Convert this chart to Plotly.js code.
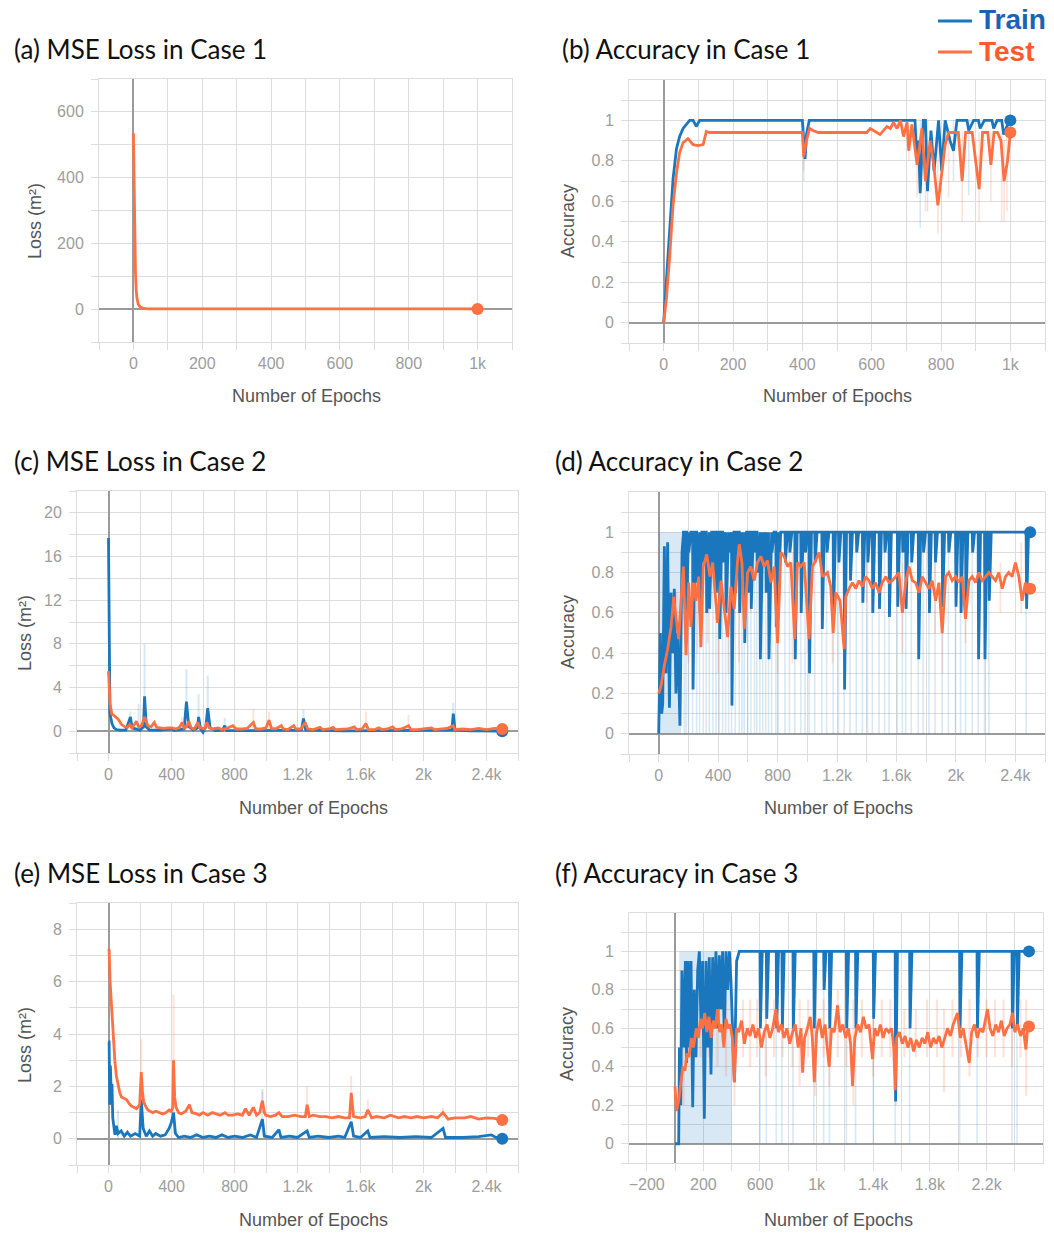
<!DOCTYPE html>
<html><head><meta charset="utf-8">
<script src="https://cdn.plot.ly/plotly-3.0.1.min.js"></script>
<style>html,body{margin:0;padding:0;background:#fff;}#chart{width:1054px;height:1234px;}</style>
</head><body><div id="chart"></div>
<script>
// ---------------- DATA (epoch, value) ----------------
// (a) MSE loss, case 1
const testLossA = [[0,535],[2,380],[4,200],[6,110],[8,60],[10,35],[14,15],[20,6],[30,2],[40,1],[100,0.6],[1000,0.5]];

// (b) accuracy, case 1
const trainAccB = [[0,0],[8,0.21],[17,0.41],[27,0.71],[37,0.86],[46,0.92],[56,0.96],[66,0.98],[75,1.0],[85,1.0],[94,0.97],[104,1.0],[400,1.0],[404,0.9],[408,0.81],[412,0.93],[420,1.0],[725,1.0],[730,0.8],[735,0.9],[740,0.64],[749,1.0],[755,1.0],[761,0.65],[771,0.95],[780,0.75],[793,1.0],[802,0.75],[812,1.0],[826,0.9],[836,0.85],[846,1.0],[875,1.0],[880,0.95],[894,1.0],[908,1.0],[913,0.96],[925,1.0],[947,1.0],[952,0.96],[962,1.0],[975,1.0],[981,0.93],[990,0.97],[1000,1.0]];
const testAccB = [[0,0],[8,0.12],[17,0.32],[27,0.58],[37,0.74],[46,0.84],[56,0.89],[70,0.91],[85,0.88],[99,0.875],[114,0.88],[123,0.945],[133,0.94],[400,0.94],[404,0.82],[412,0.9],[421,0.96],[431,0.95],[446,0.94],[460,0.94],[586,0.94],[596,0.96],[605,0.95],[624,0.93],[644,0.97],[654,0.96],[663,0.99],[673,0.96],[683,1.0],[692,0.92],[702,0.99],[707,0.85],[716,0.98],[731,0.78],[745,0.96],[755,0.7],[769,0.9],[779,0.78],[791,0.58],[802,0.75],[812,0.88],[822,0.94],[837,0.94],[850,0.94],[861,0.7],[871,0.94],[890,0.94],[910,0.66],[920,0.94],[935,0.94],[944,0.78],[953,0.94],[963,0.94],[973,0.9],[982,0.7],[992,0.8],[1000,0.94]];
// raw (unsmoothed) excursions: [epoch, from, to]
const rawTrainB = [[20,0.5,0.3],[404,1.0,0.7],[740,1.0,0.47],[761,1.0,0.55],[836,1.0,0.7],[880,1.0,0.63]];
const rawTestB = [[404,0.94,0.75],[707,0.98,0.8],[731,0.96,0.62],[755,0.94,0.55],[791,0.9,0.44],[822,0.94,0.62],[861,0.94,0.5],[910,0.94,0.5],[944,0.94,0.6],[975,0.94,0.5],[982,0.9,0.5],[990,0.94,0.55]];

// (c) MSE loss, case 2
const trainLossC = [[0,17.7],[4,3.4],[9,1.7],[15,1.2],[22,0.7],[35,0.3],[50,0.15],[73,0.1],[110,0.1],[130,0.9],[139,1.3],[150,0.3],[200,0.1],[222,0.4],[229,3.2],[240,0.4],[260,0.1],[330,0.1],[400,0.2],[420,0.05],[480,0.2],[495,2.7],[510,0.4],[540,0.1],[565,0.3],[572,1.3],[585,0.2],[600,-0.1],[618,0.4],[630,2.1],[645,0.3],[680,0.05],[725,0.1],[738,0.5],[750,0.05],[900,0.05],[1000,0.05],[1225,0.1],[1238,1.15],[1252,0.1],[1500,0.02],[1800,0.03],[2180,0.1],[2189,1.6],[2200,0.1],[2300,0.02],[2500,0.0]];
const testLossC = [[0,5.5],[5,3.5],[10,2.5],[21,1.6],[42,1.3],[62,1.1],[83,0.6],[104,0.4],[120,0.35],[135,0.6],[150,0.3],[177,0.9],[191,0.4],[210,0.5],[229,1.3],[250,0.5],[270,0.4],[291,0.8],[305,0.35],[322,0.3],[350,0.25],[380,0.3],[406,0.3],[430,0.2],[450,0.35],[468,0.8],[480,0.3],[497,0.4],[510,0.9],[525,0.3],[545,0.2],[568,0.8],[580,0.3],[593,0.3],[610,0.2],[624,0.8],[640,0.3],[660,0.2],[697,0.3],[720,0.15],[750,0.25],[790,0.5],[810,0.2],[850,0.2],[880,0.25],[920,0.8],[935,0.2],[970,0.2],[1000,0.3],[1019,1.0],[1035,0.25],[1060,0.2],[1097,0.5],[1110,0.2],[1140,0.15],[1176,0.5],[1190,0.2],[1220,0.2],[1249,0.8],[1265,0.2],[1300,0.15],[1343,0.35],[1360,0.15],[1400,0.2],[1426,0.35],[1440,0.15],[1480,0.15],[1520,0.2],[1561,0.4],[1575,0.15],[1610,0.2],[1634,0.7],[1650,0.15],[1690,0.15],[1717,0.3],[1735,0.15],[1770,0.2],[1805,0.4],[1820,0.15],[1860,0.2],[1905,0.5],[1920,0.15],[1960,0.15],[2000,0.2],[2050,0.3],[2070,0.15],[2110,0.2],[2150,0.25],[2189,0.5],[2200,0.15],[2250,0.2],[2300,0.15],[2350,0.25],[2400,0.15],[2450,0.25],[2500,0.2]];
const rawTrainC = [[139,0.2,1.8],[191,0.2,2.5],[229,0.2,8.0],[495,0.2,5.7],[572,0.2,3.4],[630,0.2,5.1],[738,0.2,1.2],[1238,0.2,2.0],[2189,0.2,2.6]];
const rawTestC = [[468,0.2,1.3],[920,0.2,2.0],[1019,0.2,1.8],[1634,0.2,1.8],[1905,0.2,1.5]];

// (d) accuracy, case 2
const trainAccDEarly = [[0,0],[6,0.45],[11,0.5],[20,0.1],[27,0.15],[38,0.93],[49,0.3],[60,0.95],[72,0.13],[83,0.7],[94,0.4],[105,0.72],[116,0.2],[128,0.5],[143,0.04],[157,0.9],[166,1.0]];
// dips of the smoothed train curve from its 1.0 plateau: [epoch, lowest value]
const trainAccDDips = [[172,0.8],[184,0.55],[200,0.9],[228,0.22],[255,0.75],[275,0.6],[300,0.85],[320,0.6],[340,0.62],[365,0.8],[385,0.7],[408,0.47],[430,0.85],[450,0.6],[470,0.9],[490,0.14],[515,0.7],[542,0.6],[560,0.85],[576,0.45],[600,0.7],[620,0.62],[645,0.9],[660,0.8],[681,0.37],[700,0.85],[720,0.7],[739,0.37],[760,0.9],[788,0.53],[805,0.75],[850,0.85],[880,0.9],[916,0.37],[956,0.6],[985,0.9],[1012,0.3],[1050,0.85],[1098,0.52],[1130,0.9],[1174,0.6],[1210,0.85],[1248,0.22],[1288,0.76],[1330,0.9],[1371,0.65],[1405,0.85],[1438,0.6],[1483,0.62],[1520,0.9],[1550,0.58],[1606,0.63],[1640,0.9],[1662,0.62],[1700,0.85],[1747,0.37],[1780,0.9],[1819,0.6],[1860,0.85],[1908,0.63],[1950,0.9],[1998,0.63],[2032,0.6],[2065,0.65],[2110,0.9],[2150,0.37],[2193,0.37],[2222,0.66],[2473,0.62]];
const trainAccDEnd = [2500, 1.0];
const rawTrainBandD = [[0,1],[150,1]];
const testAccD = [[0,0.2],[16,0.24],[38,0.34],[60,0.42],[83,0.53],[101,0.68],[116,0.58],[134,0.47],[150,0.66],[166,0.83],[184,0.39],[202,0.75],[217,0.53],[233,0.75],[251,0.66],[269,0.78],[284,0.43],[300,0.83],[323,0.89],[345,0.78],[363,0.85],[381,0.7],[396,0.55],[419,0.76],[441,0.62],[464,0.48],[486,0.73],[508,0.62],[531,0.86],[542,0.94],[560,0.85],[576,0.52],[598,0.8],[620,0.83],[643,0.76],[665,0.85],[688,0.88],[710,0.83],[732,0.86],[755,0.75],[777,0.83],[800,0.45],[822,0.9],[844,0.88],[867,0.83],[889,0.85],[916,0.47],[934,0.85],[956,0.83],[979,0.85],[1012,0.47],[1035,0.83],[1057,0.86],[1080,0.9],[1102,0.78],[1136,0.8],[1158,0.73],[1174,0.5],[1192,0.7],[1221,0.66],[1248,0.42],[1259,0.68],[1281,0.72],[1304,0.75],[1326,0.72],[1348,0.76],[1371,0.73],[1393,0.78],[1416,0.76],[1438,0.72],[1460,0.75],[1483,0.7],[1505,0.75],[1528,0.78],[1550,0.75],[1572,0.76],[1595,0.78],[1617,0.8],[1640,0.6],[1662,0.75],[1684,0.83],[1707,0.76],[1729,0.75],[1752,0.7],[1774,0.78],[1796,0.75],[1819,0.72],[1841,0.76],[1864,0.66],[1886,0.75],[1908,0.5],[1931,0.78],[1953,0.8],[1975,0.76],[1998,0.78],[2020,0.75],[2043,0.78],[2065,0.57],[2088,0.76],[2110,0.78],[2132,0.75],[2155,0.8],[2177,0.76],[2200,0.78],[2222,0.8],[2244,0.78],[2267,0.76],[2289,0.8],[2312,0.72],[2334,0.78],[2356,0.8],[2379,0.78],[2401,0.85],[2424,0.78],[2446,0.66],[2468,0.75],[2491,0.72],[2500,0.72]];
const rawTestD = [[120,0.3,0.7],[200,0.35,0.9],[260,0.4,0.95],[330,0.45,0.95],[400,0.3,0.8],[470,0.3,0.9],[540,0.35,0.95],[620,0.6,0.95],[700,0.65,0.95],[800,0.3,0.95],[900,0.35,0.9],[1000,0.4,0.95],[1100,0.6,0.95],[1170,0.35,0.85],[1250,0.25,0.8],[1400,0.65,0.85],[1550,0.6,0.85],[1640,0.4,0.85],[1750,0.55,0.9],[1860,0.5,0.85],[1910,0.3,0.9],[2065,0.45,0.9],[2150,0.6,0.9],[2300,0.6,0.85],[2440,0.6,0.95]];

// (e) MSE loss, case 3
const trainLossE = [[0,3.7],[4,3.7],[8,1.3],[12,2.8],[17,1.7],[22,2.1],[27,0.8],[35,0.3],[41,0.15],[50,0.5],[60,0.2],[80,0.3],[100,0.1],[120,0.25],[140,0.1],[170,0.2],[198,0.1],[208,1.5],[220,0.4],[240,0.1],[260,0.3],[280,0.1],[300,0.2],[330,0.1],[360,0.15],[385,0.4],[398,0.6],[413,1.0],[425,0.2],[445,0.05],[480,0.1],[520,0.05],[560,0.15],[600,0.05],[640,0.1],[682,0.05],[720,0.15],[760,0.05],[800,0.1],[850,0.05],[900,0.15],[940,0.05],[977,0.75],[990,0.1],[1040,0.05],[1082,0.35],[1095,0.05],[1150,0.1],[1200,0.05],[1261,0.3],[1275,0.05],[1330,0.1],[1400,0.05],[1460,0.1],[1500,0.05],[1541,0.65],[1556,0.1],[1600,0.05],[1646,0.3],[1660,0.05],[1750,0.08],[1850,0.05],[1950,0.08],[2050,0.05],[2124,0.4],[2140,0.05],[2250,0.05],[2350,0.08],[2430,0.15],[2460,0.05],[2500,0.0]];
const testLossE = [[0,7.25],[4,7.2],[10,6.0],[19,5.0],[30,3.8],[40,3.0],[50,2.4],[61,2.0],[72,1.75],[82,1.6],[100,1.55],[114,1.5],[130,1.35],[145,1.25],[160,1.2],[177,1.15],[198,1.3],[208,2.55],[216,1.8],[223,1.4],[240,1.2],[250,1.1],[265,1.05],[282,1.0],[300,1.05],[324,1.0],[345,0.95],[366,1.0],[385,1.1],[398,1.05],[408,1.2],[413,3.0],[420,1.6],[429,1.2],[445,1.0],[461,0.95],[490,1.05],[514,1.3],[530,1.0],[560,0.95],[577,0.9],[600,1.0],[630,0.9],[660,1.0],[682,0.95],[710,0.9],[740,1.0],[760,0.9],[787,0.9],[820,0.95],[850,0.9],[870,1.15],[893,0.9],[920,1.2],[940,0.9],[960,1.0],[977,1.45],[990,1.0],[998,0.9],[1030,0.85],[1060,0.9],[1082,1.0],[1103,0.85],[1140,0.85],[1180,0.9],[1220,0.85],[1250,0.85],[1261,1.3],[1275,0.85],[1300,0.9],[1340,0.85],[1380,0.85],[1419,0.8],[1460,0.85],[1500,0.8],[1530,0.8],[1541,1.75],[1556,0.85],[1600,0.8],[1630,0.85],[1646,1.1],[1671,0.8],[1700,0.85],[1750,0.8],[1790,0.9],[1840,0.8],[1880,0.85],[1920,0.8],[1960,0.85],[2000,0.8],[2050,0.85],[2090,0.8],[2124,1.0],[2156,0.75],[2200,0.8],[2261,0.8],[2300,0.85],[2350,0.75],[2400,0.8],[2450,0.78],[2500,0.72]];
const rawTrainE = [[60,0.0,1.1],[413,0.2,1.2],[977,0.1,1.9]];
const rawTestE = [[208,1.3,3.8],[413,1.2,5.5],[977,1.0,1.8],[1261,0.9,2.0],[1541,0.85,2.4],[1646,0.9,1.5],[2124,0.8,1.2]];

// (f) accuracy, case 3
const trainAccFEarly = [[0,0],[7,0],[26,0],[31,0.5],[40,0.2],[49,0.9],[61,0.5],[73,0.95],[82,0.42],[92,0.95],[101,0.5],[113,0.95],[125,0.19],[136,0.8],[148,0.45],[160,0.9],[172,1.0],[184,0.6],[195,0.95],[207,0.13],[219,0.95],[231,0.5],[242,0.97],[254,0.36],[266,0.97],[278,0.6],[289,1.0],[301,0.6],[313,0.98],[325,0.7],[336,1.0],[348,0.55],[360,1.0],[372,0.8],[384,1.0],[395,0.85],[407,0.6],[419,0.32],[435,0.95],[454,1.0]];
const trainAccFDips = [[600,0.6],[645,0.65],[715,0.6],[755,0.6],[833,0.6],[980,0.6],[1050,0.8],[1090,0.6],[1210,0.6],[1275,0.6],[1400,0.65],[1555,0.22],[1657,0.6],[2010,0.6],[2133,0.6],[2380,0.6],[2415,0.6]];
const trainAccFEnd = [2500, 1.0];
const rawTrainBandF = [[30,1],[400,1]];
const testAccF = [[0,0.3],[10,0.17],[25,0.22],[40,0.3],[55,0.4],[70,0.38],[85,0.47],[100,0.45],[115,0.55],[130,0.5],[150,0.6],[165,0.55],[180,0.65],[195,0.6],[210,0.68],[225,0.58],[240,0.66],[255,0.55],[270,0.64],[285,0.6],[300,0.7],[315,0.58],[330,0.62],[345,0.5],[360,0.65],[375,0.6],[390,0.62],[405,0.55],[419,0.32],[435,0.6],[450,0.58],[470,0.64],[490,0.52],[510,0.6],[530,0.56],[550,0.62],[570,0.55],[590,0.6],[610,0.5],[630,0.58],[650,0.62],[670,0.55],[690,0.6],[713,0.7],[730,0.58],[750,0.62],[770,0.55],[790,0.6],[810,0.52],[830,0.58],[850,0.62],[870,0.5],[890,0.6],[901,0.37],[915,0.55],[935,0.6],[955,0.66],[970,0.55],[984,0.32],[1000,0.58],[1020,0.65],[1040,0.55],[1060,0.62],[1075,0.5],[1089,0.4],[1105,0.6],[1125,0.58],[1148,0.72],[1165,0.58],[1185,0.62],[1205,0.55],[1225,0.6],[1240,0.52],[1254,0.3],[1270,0.55],[1290,0.62],[1310,0.58],[1330,0.66],[1350,0.6],[1370,0.62],[1395,0.44],[1410,0.6],[1430,0.56],[1450,0.62],[1470,0.55],[1490,0.6],[1510,0.58],[1530,0.6],[1545,0.5],[1555,0.28],[1565,0.55],[1585,0.58],[1605,0.52],[1625,0.56],[1645,0.5],[1665,0.55],[1685,0.48],[1705,0.54],[1725,0.5],[1745,0.55],[1765,0.52],[1785,0.58],[1805,0.5],[1825,0.55],[1845,0.52],[1865,0.56],[1885,0.5],[1905,0.55],[1925,0.6],[1945,0.56],[1965,0.62],[1995,0.68],[2015,0.55],[2035,0.6],[2055,0.52],[2078,0.42],[2095,0.58],[2115,0.62],[2135,0.55],[2155,0.6],[2175,0.58],[2190,0.64],[2207,0.7],[2225,0.6],[2245,0.56],[2265,0.62],[2285,0.58],[2305,0.64],[2325,0.56],[2345,0.6],[2365,0.62],[2384,0.68],[2400,0.58],[2420,0.62],[2440,0.56],[2460,0.6],[2478,0.49],[2490,0.6],[2500,0.61]];
const rawTestF = [[60,0.2,0.55],[120,0.35,0.7],[180,0.45,0.75],[240,0.45,0.75],[300,0.4,0.75],[360,0.35,0.75],[420,0.2,0.6],[480,0.45,0.75],[530,0.4,0.75],[580,0.45,0.75],[640,0.35,0.75],[700,0.45,0.75],[760,0.45,0.75],[830,0.4,0.75],[880,0.3,0.75],[940,0.45,0.75],[990,0.25,0.75],[1050,0.45,0.75],[1090,0.3,0.75],[1150,0.45,0.8],[1210,0.4,0.75],[1260,0.2,0.75],[1320,0.45,0.75],[1400,0.35,0.75],[1460,0.45,0.75],[1520,0.45,0.75],[1560,0.2,0.7],[1620,0.45,0.7],[1700,0.45,0.7],[1780,0.45,0.75],[1850,0.45,0.75],[1900,0.27,0.7],[1960,0.45,0.75],[2020,0.45,0.75],[2080,0.35,0.75],[2140,0.45,0.75],[2200,0.45,0.75],[2260,0.45,0.75],[2320,0.45,0.75],[2380,0.4,0.75],[2440,0.45,0.75],[2480,0.25,0.75]];

// text
const panelTitles = ['(a) MSE Loss in Case 1','(b) Accuracy in Case 1','(c) MSE Loss in Case 2','(d) Accuracy in Case 2','(e) MSE Loss in Case 3','(f) Accuracy in Case 3'];
const xTitle = 'Number of Epochs';
const yTitles = ['Loss (m²)','Accuracy','Loss (m²)','Accuracy','Loss (m²)','Accuracy'];
const seriesNames = ['Train','Test'];

// ---------------- STYLE / LAYOUT ----------------
const W = 1054, H = 1234;
const BLUE = '#1a76bd', ORANGE = '#ff7043';
const BLUE_PALE = 'rgba(26,118,189,0.17)', ORANGE_PALE = 'rgba(255,112,67,0.2)';
const GRID = '#dddddd', ZERO = '#9b9b9b', TICKC = '#9d9d9d';
const LW = 2.8;

const ids = ['', '2', '3', '4', '5', '6'];
function L(pts, k, color, width) {
  return {type:'scatter', mode:'lines', x:pts.map(p=>p[0]), y:pts.map(p=>p[1]),
    xaxis:'x'+ids[k], yaxis:'y'+ids[k], line:{color:color, width:width||LW},
    hoverinfo:'skip', showlegend:false};
}
function END(pts, k, color) {
  const p = pts[pts.length-1];
  return {type:'scatter', mode:'markers', x:[p[0]], y:[p[1]], xaxis:'x'+ids[k], yaxis:'y'+ids[k],
    marker:{color:color, size:12}, hoverinfo:'skip', showlegend:false};
}
function SPK(list, k, color, width) {
  const x = [], y = [];
  list.forEach(s => { x.push(s[0], s[0], null); y.push(s[1], s[2], null); });
  return {type:'scatter', mode:'lines', x:x, y:y, xaxis:'x'+ids[k], yaxis:'y'+ids[k],
    line:{color:color, width:width||1.6}, hoverinfo:'skip', showlegend:false, connectgaps:false};
}
function BAND(pts, k, color) {
  return {type:'scatter', mode:'lines', x:pts.map(p=>p[0]), y:pts.map(p=>p[1]), fill:'tozeroy',
    fillcolor:color, line:{width:0, color:color}, xaxis:'x'+ids[k], yaxis:'y'+ids[k],
    hoverinfo:'skip', showlegend:false};
}
// plateau at 1.0 with dips (sharp drop, quick recovery)
function plateau(early, dips, end) {
  const pts = early.slice();
  dips.forEach(d => { pts.push([d[0], 1.0], [d[0]+3, d[1]], [d[0]+16, 1.0]); });
  pts.push(end);
  return pts;
}
// raw train drops to 0 at each dip epoch
function rawDrops(dips) { return dips.map(d => [d[0], 1.0, 0.0]); }

const trainAccD = plateau(trainAccDEarly, trainAccDDips, trainAccDEnd);
const trainAccF = plateau(trainAccFEarly, trainAccFDips, trainAccFEnd);

const traces = [
  // (a)
  L(testLossA, 0, ORANGE), END(testLossA, 0, ORANGE),
  // (b)
  SPK(rawTrainB, 1, BLUE_PALE), SPK(rawTestB, 1, ORANGE_PALE),
  L(trainAccB, 1, BLUE), L(testAccB, 1, ORANGE), END(trainAccB, 1, BLUE), END(testAccB, 1, ORANGE),
  // (c)
  SPK(rawTrainC, 2, BLUE_PALE, 2), SPK(rawTestC, 2, ORANGE_PALE, 2),
  L(trainLossC, 2, BLUE), L(testLossC, 2, ORANGE), END(trainLossC, 2, BLUE), END(testLossC, 2, ORANGE),
  // (d)
  BAND(rawTrainBandD, 3, BLUE_PALE), SPK(rawDrops(trainAccDDips), 3, BLUE_PALE, 1.6), SPK(rawTestD, 3, ORANGE_PALE, 1.8),
  L(trainAccD, 3, BLUE), L(testAccD, 3, ORANGE), END(trainAccD, 3, BLUE), END(testAccD, 3, ORANGE),
  // (e)
  SPK(rawTrainE, 4, BLUE_PALE, 2), SPK(rawTestE, 4, ORANGE_PALE, 2),
  L(trainLossE, 4, BLUE), L(testLossE, 4, ORANGE), END(trainLossE, 4, BLUE), END(testLossE, 4, ORANGE),
  // (f)
  BAND(rawTrainBandF, 5, BLUE_PALE), SPK(rawDrops(trainAccFDips), 5, BLUE_PALE, 1.6), SPK(rawTestF, 5, ORANGE_PALE, 2.2),
  L(trainAccF, 5, BLUE), L(testAccF, 5, ORANGE), END(trainAccF, 5, BLUE), END(testAccF, 5, ORANGE)
];

// plot boxes in px: [left, right, top, bottom]
const boxes = [[99,512,79,342],[629,1045,80,343],[77,518,491,753],[629,1045,492,754],[77,518,903,1165],[629,1043,913,1163]];
// axis specs: [range, tick0, dtick, minor dtick]
const xSpec = [
  [[-100,1100],0,200,100],[[-100,1100],0,200,100],
  [[-200,2600],0,400,200],[[-200,2600],0,400,200],
  [[-200,2600],0,400,200],[[-325,2599],-200,400,200]];
const ySpec = [
  [[-100,700],0,200,100],[[-0.1,1.1995],0,0.2,0.1],
  [[-2,22],0,4,2],[[-0.1,1.1995],0,0.2,0.1],
  [[-1,9],0,2,1],[[-0.1,1.1995],0,0.2,0.1]];

function axis(dom, anchor, spec, fmt) {
  return {domain:dom, anchor:anchor, range:spec[0], autorange:false,
    tickmode:'linear', tick0:spec[1], dtick:spec[2], tickformat:fmt,
    showgrid:true, gridcolor:GRID, gridwidth:1,
    zeroline:true, zerolinecolor:ZERO, zerolinewidth:2,
    showline:true, linecolor:GRID, linewidth:1, mirror:true,
    ticks:'outside', ticklen:7, tickcolor:GRID, tickwidth:1,
    tickfont:{family:'Liberation Sans, Arial, sans-serif', size:16, color:TICKC},
    minor:{tick0:0, dtick:spec[3], showgrid:true, gridcolor:GRID, gridwidth:1, ticks:'outside', ticklen:7, tickcolor:GRID},
    fixedrange:true};
}

const layout = {width:W, height:H, margin:{l:0,r:0,t:0,b:0}, paper_bgcolor:'#fff', plot_bgcolor:'#fff',
  showlegend:false, annotations:[], shapes:[]};
boxes.forEach((b, k) => {
  const xd = [b[0]/W, b[1]/W], yd = [1-b[3]/H, 1-b[2]/H];
  layout['xaxis'+ids[k]] = axis(xd, 'y'+ids[k], xSpec[k], '~s');
  const ya = axis(yd, 'x'+ids[k], ySpec[k], '');
  ya.ticklabelstandoff = 4;
  layout['yaxis'+ids[k]] = ya;
});

function px(x, y) { return {x:x/W, y:1-y/H, xref:'paper', yref:'paper', showarrow:false}; }
const titlePos = [[12,49],[560,49],[12,461],[553,461],[12,873],[553,873]];
const xTitlePos = [[306,396],[837,396],[313,808],[838,808],[313,1220],[838,1220]];
const yTitlePos = [[35,221],[568,221],[25,633],[568,632],[25,1045],[567,1044]];
panelTitles.forEach((t, k) => {
  layout.annotations.push(Object.assign(px(titlePos[k][0], titlePos[k][1]),
    {text:t, xanchor:'left', yanchor:'middle', font:{family:'Lato, Open Sans, sans-serif', size:26, color:'#111'}}));
  layout.annotations.push(Object.assign(px(xTitlePos[k][0], xTitlePos[k][1]),
    {text:xTitle, xanchor:'center', yanchor:'middle', font:{family:'Liberation Sans, Arial, sans-serif', size:18, color:'#555'}}));
  layout.annotations.push(Object.assign(px(yTitlePos[k][0], yTitlePos[k][1]),
    {text:yTitles[k], textangle:-90, xanchor:'center', yanchor:'middle', font:{family:'Liberation Sans, Arial, sans-serif', size:18, color:'#555'}}));
});
// legend (top-right)
const legendColors = [['#1a62b3', BLUE], ['#ff5a2c', ORANGE]];
const legendY = [20, 51];
seriesNames.forEach((n, i) => {
  layout.annotations.push(Object.assign(px(977, legendY[i]),
    {text:'<b>'+n+'</b>', xanchor:'left', yanchor:'middle', font:{family:'Liberation Sans, Arial, sans-serif', size:28, color:legendColors[i][0]}}));
  layout.shapes.push({type:'line', xref:'paper', yref:'paper', x0:938/W, x1:972/W, y0:1-(legendY[i]+1)/H, y1:1-(legendY[i]+1)/H,
    line:{color:legendColors[i][1], width:3}});
});

Plotly.newPlot('chart', traces, layout, {staticPlot:true, displayModeBar:false});
</script></body></html>
